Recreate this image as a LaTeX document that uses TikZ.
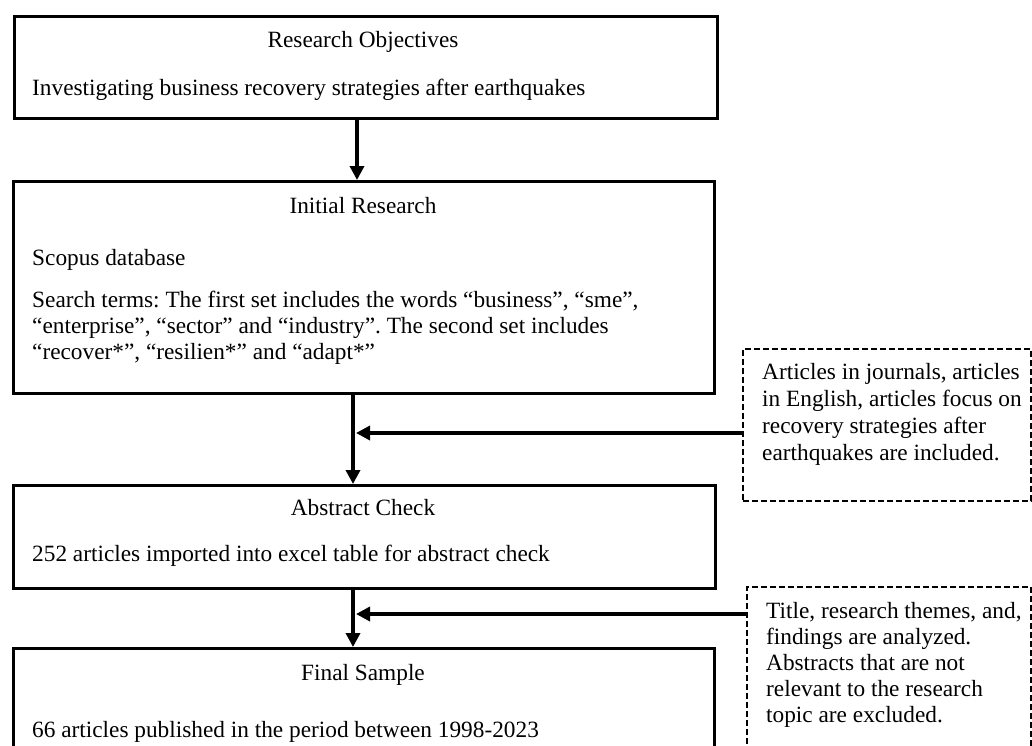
\documentclass[tikz,border=0pt]{standalone}
\usepackage{fontspec}
\setmainfont{Liberation Serif}
\usetikzlibrary{arrows.meta}
\begin{document}
\frenchspacing
\begin{tikzpicture}[x=1pt,y=-1pt,
  box/.style={draw=black, line width=2.6pt, anchor=north west, inner sep=0pt},
  dbox/.style={draw=black, line width=1.8pt, dash pattern=on 6pt off 3pt, anchor=north west, inner sep=0pt},
  txt/.style={anchor=base west, inner sep=0pt, font=\fontsize{23.3}{27}\selectfont},
  ttl/.style={anchor=base, inner sep=0pt, font=\fontsize{23.3}{27}\selectfont},
  arr/.style={line width=3.4pt, -{Triangle[length=14pt,width=14pt]}},
]
\useasboundingbox (0,0) rectangle (1032,745);
\begin{scope}
\clip (0,0) rectangle (1032,745);
% solid boxes
\node[box, minimum width=703pt, minimum height=102pt] (b1) at (13,15) {};
\node[box, minimum width=701pt, minimum height=212pt] (b2) at (12,180) {};
\node[box, minimum width=702pt, minimum height=103pt] (b3) at (12,484) {};
\node[box, minimum width=701pt, minimum height=130pt] (b4) at (12,647) {};
% dashed boxes
\node[dbox, minimum width=288pt, minimum height=152pt] (d1) at (742,348) {};
\node[dbox, minimum width=284pt, minimum height=190pt] (d2) at (746,586) {};
\end{scope}
% texts
\node[ttl] (t1) at (363,47) {Research Objectives};
\node[txt] (t1a) at (32,95) {Investigating business recovery strategies after earthquakes};
\node[ttl] (t2) at (363,213) {Initial Research};
\node[txt] (t2a) at (32,265) {Scopus database};
\node[txt] (t2b) at (32,307) {Search terms: The first set includes the words “business”, “sme”,};
\node[txt] (t2c) at (32,333) {“enterprise”, “sector” and “industry”. The second set includes};
\node[txt] (t2d) at (32,359) {“recover*”, “resilien*” and “adapt*”};
\node[ttl] (t3) at (363,515) {Abstract Check};
\node[txt] (t3a) at (32,561) {252 articles imported into excel table for abstract check};
\node[ttl] (t4) at (363,680) {Final Sample};
\node[txt] (t4a) at (32,737) {66 articles published in the period between 1998-2023};
\node[txt] (e1) at (762,379) {Articles in journals, articles};
\node[txt] (e2) at (762,406) {in English, articles focus on};
\node[txt] (e3) at (762,433) {recovery strategies after};
\node[txt] (e4) at (762,460) {earthquakes are included.};
\node[txt] (f1) at (766,618) {Title, research themes, and,};
\node[txt] (f2) at (766,644) {findings are analyzed.};
\node[txt] (f3) at (766,670) {Abstracts that are not};
\node[txt] (f4) at (766,696) {relevant to the research};
\node[txt] (f5) at (766,722) {topic are excluded.};
% connectors
\coordinate (c1) at (357,0);
\coordinate (c2) at (353,0);
\coordinate (j1) at (356,433);
\coordinate (j2) at (356,614);
\draw[arr] (c1 |- b1.south) -- (c1 |- b2.north);
\draw[arr] (c2 |- b2.south) -- (c2 |- b3.north);
\draw[arr] (c2 |- b3.south) -- (c2 |- b4.north);
\draw[arr] (d1.west |- j1) -- (j1);
\draw[arr] (d2.west |- j2) -- (j2);
\end{tikzpicture}
\end{document}
